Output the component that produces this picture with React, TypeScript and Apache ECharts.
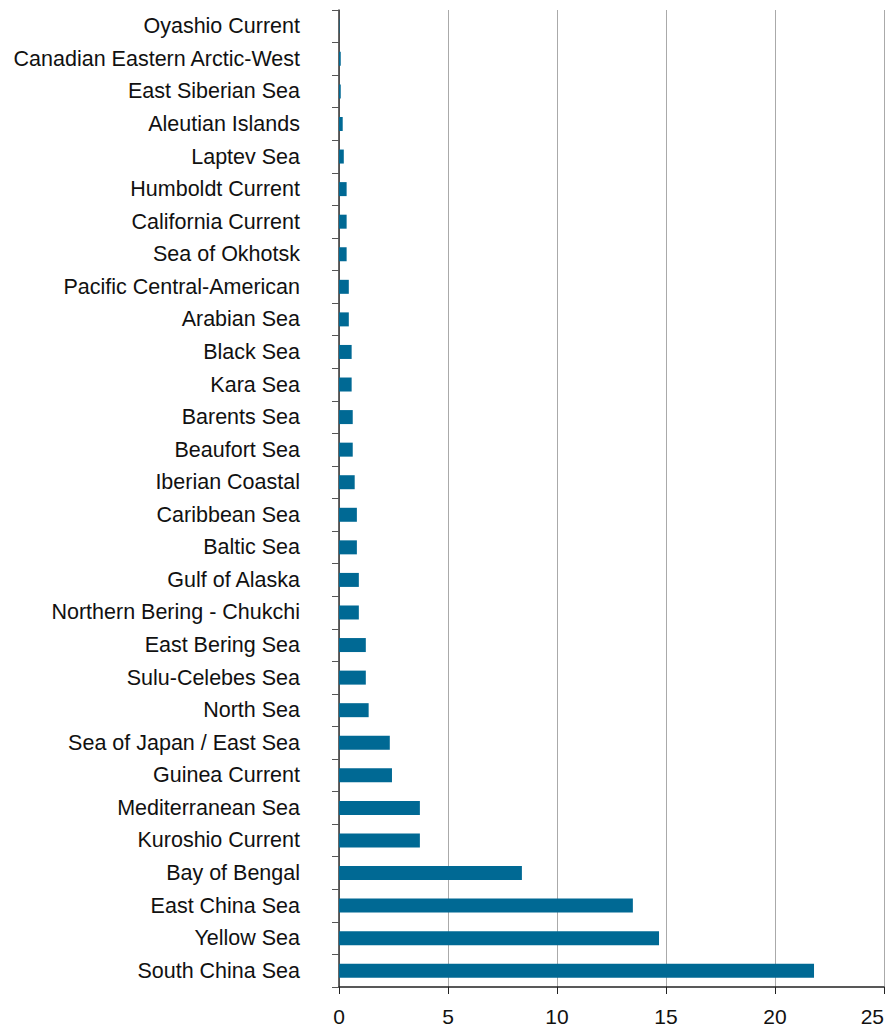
import React, { useEffect, useRef } from "react";
import * as echarts from "echarts";

const categories = [
  "South China Sea",
  "Yellow Sea",
  "East China Sea",
  "Bay of Bengal",
  "Kuroshio Current",
  "Mediterranean Sea",
  "Guinea Current",
  "Sea of Japan / East Sea",
  "North Sea",
  "Sulu-Celebes Sea",
  "East Bering Sea",
  "Northern Bering - Chukchi",
  "Gulf of Alaska",
  "Baltic Sea",
  "Caribbean Sea",
  "Iberian Coastal",
  "Beaufort Sea",
  "Barents Sea",
  "Kara Sea",
  "Black Sea",
  "Arabian Sea",
  "Pacific Central-American",
  "Sea of Okhotsk",
  "California Current",
  "Humboldt Current",
  "Laptev Sea",
  "Aleutian Islands",
  "East Siberian Sea",
  "Canadian Eastern Arctic-West",
  "Oyashio Current",
];

const values = [
  21.79, 14.68, 13.48, 8.39, 3.71, 3.71, 2.43, 2.33, 1.36, 1.23,
  1.23, 0.91, 0.91, 0.82, 0.82, 0.72, 0.63, 0.63, 0.58, 0.58,
  0.45, 0.45, 0.35, 0.35, 0.35, 0.22, 0.17, 0.08, 0.08, 0.02,
];

const xTicks = { min: 0, max: 25, interval: 5 };

export default function App() {
  const ref = useRef<HTMLDivElement>(null);
  useEffect(() => {
    document.body.style.margin = "0";
    document.body.style.overflow = "hidden";
    if (!ref.current) return;
    const chart = echarts.init(ref.current, undefined, { renderer: "svg", width: 890, height: 1028 });
    chart.setOption({
      animation: false,
      textStyle: { fontFamily: "Liberation Sans, Arial, sans-serif" },
      grid: {
        left: 339,
        right: 6,
        top: 10,
        bottom: 41,
        containLabel: false,
        outerBoundsMode: "none",
      },
      xAxis: {
        type: "value",
        min: xTicks.min,
        max: xTicks.max,
        interval: xTicks.interval,
        axisLine: { show: true, lineStyle: { color: "#222", width: 1.5 } },
        axisTick: { show: true, length: 7, lineStyle: { color: "#222" } },
        axisLabel: {
          color: "#111",
          fontSize: 21,
          lineHeight: 21,
          margin: 19,
          alignMaxLabel: "right",
        },
        splitLine: { show: true, lineStyle: { color: "#aaaaaa", width: 1 } },
      },
      yAxis: {
        type: "category",
        data: categories,
        axisLine: { show: true, lineStyle: { color: "#333", width: 1.5 } },
        axisTick: { show: true, length: 7, lineStyle: { color: "#555" } },
        axisLabel: { color: "#111", fontSize: 21.5, margin: 39 },
        splitLine: { show: false },
      },
      series: [
        {
          type: "bar",
          data: values,
          barWidth: 14,
          itemStyle: { color: "#006994" },
        },
      ],
    });
    return () => chart.dispose();
  }, []);
  return (
    <div
      ref={ref}
      style={{ width: 890, height: 1028, position: "absolute", left: 0, top: 0 }}
    />
  );
}
